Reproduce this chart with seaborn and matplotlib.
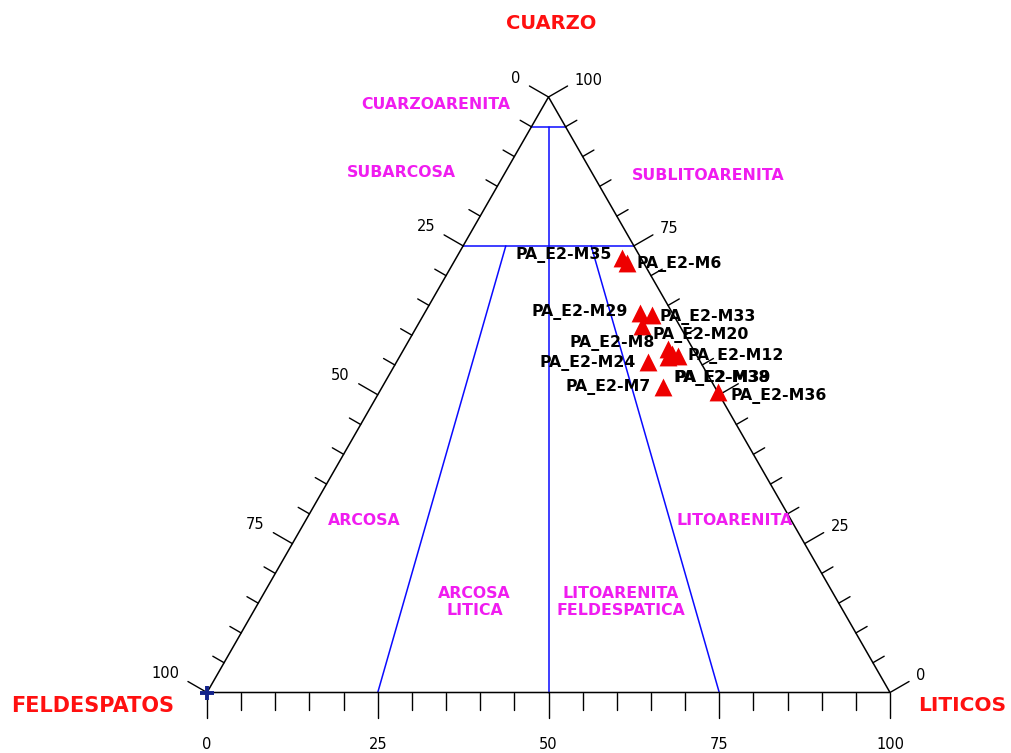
import numpy as np
import pandas as pd
import matplotlib
matplotlib.use("Agg")
import matplotlib.pyplot as plt
import seaborn as sns

# ---------------- data (percentages) ----------------
sample_names = ["PA_E2-M35", "PA_E2-M6", "PA_E2-M29", "PA_E2-M33", "PA_E2-M20",
                "PA_E2-M8", "PA_E2-M12", "PA_E2-M39", "PA_E2-M38", "PA_E2-M24",
                "PA_E2-M7", "PA_E2-M36"]
cuarzo = [73.0, 72.1, 63.7, 63.4, 61.5, 57.7, 56.5, 56.8, 56.3, 55.5, 51.3, 50.5]
feldespatos = [2.7, 2.5, 4.8, 3.2, 5.6, 3.6, 2.8, 3.5, 4.3, 7.7, 7.6, 0.0]
liticos = [24.3, 25.4, 31.5, 33.4, 32.9, 38.7, 40.7, 39.7, 39.4, 36.8, 41.1, 49.5]

base_tick_labels = ["0", "25", "50", "75", "100"]        # LITICOS along base
base_tick_values = [0, 25, 50, 75, 100]
left_tick_labels = ["100", "75", "50", "25", "0"]        # FELDESPATOS along left edge (bottom->top)
right_tick_labels = ["0", "25", "75", "100"]             # CUARZO along right edge
right_tick_values = [0, 25, 75, 100]

# Folk classification boundaries
q_upper = 95
q_lower = 75
fl_ratios_lower = [0.25, 0.5, 0.75]   # L/(F+L) boundaries below Q=75

region_labels = ["CUARZOARENITA", "SUBARCOSA", "SUBLITOARENITA", "ARCOSA",
                 "LITOARENITA", "ARCOSA\nLITICA", "LITOARENITA\nFELDESPATICA"]

# label offsets in pixels (layout only)
label_offsets = [(-10, 3, "right"), (10, -1, "left"), (-12, 1, "right"), (8, -2, "left"),
                 (11, -9, "left"), (-13, 6, "right"), (10, 0, "left"), (2, -24, "left"),
                 (5, -21, "left"), (-12, -1, "right"), (-12, 0, "right"), (13, -4, "left")]

# ---------------- setup ----------------
sns.set_style("white")
plt.rcParams["font.family"] = ["DejaVu Sans"]

fig = plt.figure(figsize=(10.11, 7.53), dpi=100)
ax = fig.add_axes([0, 0, 1, 1])
sx, sy, x0, y0 = 6.83, 5.955, 207.0, 692.5
ax.set_xlim(-x0 / sx, (1011 - x0) / sx)
ax.set_ylim((y0 - 753) / sy, y0 / sy)
ax.set_axis_off()


def pt(q, l):
    return np.array([l + q / 2.0, q])


# triangle outline
tri = np.array([pt(0, 0), pt(0, 100), pt(100, 0), pt(0, 0)])
ax.plot(tri[:, 0], tri[:, 1], color="black", lw=1.1, zorder=2)

# classification lines
blue = "#0a0aff"
for q in (q_upper, q_lower):
    a, b = pt(q, 0), pt(q, 100 - q)
    ax.plot([a[0], b[0]], [a[1], b[1]], color=blue, lw=1.1, zorder=1)
a, b = pt(q_upper, (100 - q_upper) * fl_ratios_lower[1]), pt(0, 100 * fl_ratios_lower[1])
ax.plot([a[0], b[0]], [a[1], b[1]], color=blue, lw=1.1, zorder=1)
for r in (fl_ratios_lower[0], fl_ratios_lower[2]):
    a, b = pt(q_lower, (100 - q_lower) * r), pt(0, 100 * r)
    ax.plot([a[0], b[0]], [a[1], b[1]], color=blue, lw=1.1, zorder=1)

# ticks (outward, in pixel lengths)
T = ax.transData
Ti = T.inverted()


def tick(p, direction, length):
    d = T.transform(p)
    e = Ti.transform(d + np.asarray(direction) * length)
    ax.plot([p[0], e[0]], [p[1], e[1]], color="black", lw=1.0, zorder=2)


c30, s30 = np.cos(np.pi / 6), np.sin(np.pi / 6)
for v in range(0, 101, 5):
    major = v % 25 == 0
    tick(pt(0, v), (0, -1), 25 if major else 17)
    tick(pt(100 - v, 0), (-c30, s30), 22 if major else 13)
    tick(pt(v, 100 - v), (c30, s30), 22 if major else 13)

# tick labels
tick_font = dict(fontsize=10.5, color="black")
for lab, v in zip(base_tick_labels, base_tick_values):
    ax.annotate(lab, xy=pt(0, v), xytext=(0, -52), textcoords="offset pixels",
                ha="center", va="center", **tick_font)
for lab, v in zip(left_tick_labels, base_tick_values):
    ax.annotate(lab, xy=pt(v, 0), xytext=(-28, 19), textcoords="offset pixels",
                ha="right", va="center", **tick_font)
for lab, v in zip(right_tick_labels, right_tick_values):
    ax.annotate(lab, xy=pt(v, 100 - v), xytext=(26, 17), textcoords="offset pixels",
                ha="left", va="center", **tick_font)

# corner marker
ax.plot(*pt(0, 0), marker="+", color="#12228a", markersize=10, mew=2.8, zorder=4)

# axis titles
red = "#ff1010"
ax.annotate("CUARZO", xy=pt(100, 0), xytext=(3, 74), textcoords="offset pixels",
            ha="center", va="center", fontsize=14, fontweight="bold", color=red)
ax.annotate("FELDESPATOS", xy=pt(0, 0), xytext=(-114, -13), textcoords="offset pixels",
            ha="center", va="center", fontsize=15, fontweight="bold", color=red)
ax.annotate("LITICOS", xy=pt(0, 100), xytext=(72, -13), textcoords="offset pixels",
            ha="center", va="center", fontsize=14.5, fontweight="bold", color=red)

# region labels (positions in plot coords)
magenta = "#f01cf0"
region_pos = [(33.5, 98.8), (28.4, 87.4), (73.4, 86.9), (23.1, 28.8),
              (77.3, 28.8), (39.2, 15.2), (60.6, 15.2)]
for lab, (x, y) in zip(region_labels, region_pos):
    ax.text(x, y, lab, ha="center", va="center", fontsize=11.3, fontweight="bold",
            color=magenta, linespacing=1.2)

# sample points
df = pd.DataFrame({"name": sample_names, "Q": cuarzo, "F": feldespatos, "L": liticos})
tot = df["Q"] + df["F"] + df["L"]
df["x"] = (df["L"] + df["Q"] / 2) / tot * 100
df["y"] = df["Q"] / tot * 100
sns.scatterplot(data=df, x="x", y="y", marker="^", s=165, color="#ee0000",
                edgecolor="#ee0000", linewidth=0, ax=ax, zorder=5, legend=False)
for (_, row), (dx, dy, ha) in zip(df.iterrows(), label_offsets):
    ax.annotate(row["name"], xy=(row["x"], row["y"]), xytext=(dx, dy),
                textcoords="offset pixels", ha=ha, va="center", fontsize=11.3,
                fontweight="bold", color="black", zorder=6)

ax.set_xlim(-x0 / sx, (1011 - x0) / sx)
ax.set_ylim((y0 - 753) / sy, y0 / sy)
fig.savefig("out.png", dpi=100)
